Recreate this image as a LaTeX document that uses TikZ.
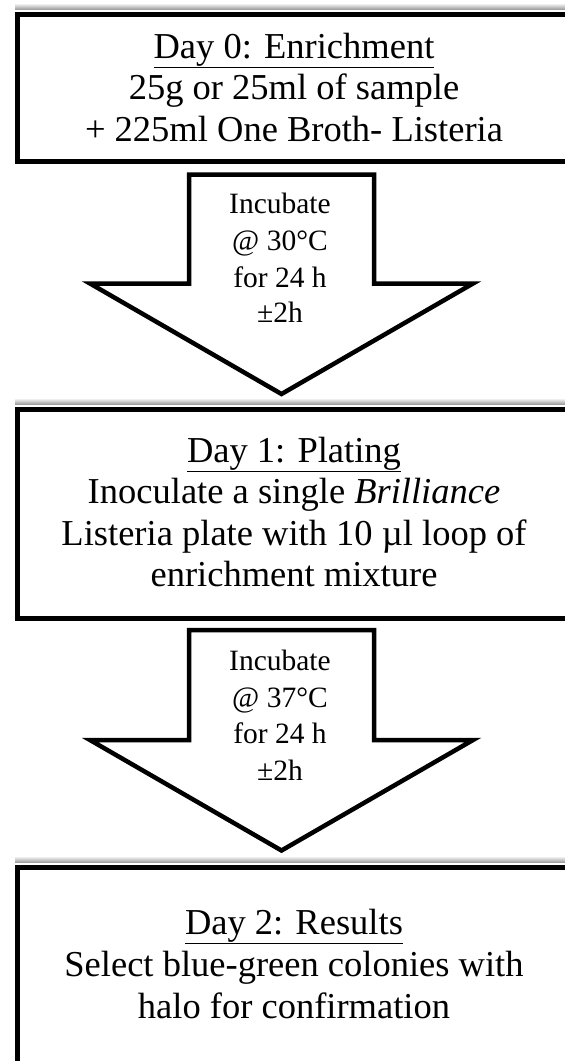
\documentclass[tikz,border=0pt]{standalone}
\usepackage{fontspec}
\setmainfont{Liberation Serif}
\begin{document}
\begin{tikzpicture}[x=1pt,y=-1pt,
  boxline/.style={draw=black,line width=5pt,fill=white},
  arrowline/.style={draw=black,line width=4.5pt,fill=white,line join=miter,miter limit=10},
  shadowstrip/.style={top color=white,bottom color=black!40,draw=none},
  bigtext/.style={font=\fontsize{36.5}{42}\selectfont,inner sep=0pt,anchor=base},
  smalltext/.style={font=\fontsize{29.5}{36.5}\selectfont,inner sep=0pt,anchor=base}]
\useasboundingbox (0,0) rectangle (565,1061);
\clip (0,0) rectangle (565,1061);
\fill[white] (0,0) rectangle (565,1061);
% shadows above the boxes
\shade[shadowstrip] (15,3) rectangle (580,9.5);
\shade[shadowstrip] (15,398) rectangle (580,404.5);
\shade[shadowstrip] (15,856) rectangle (580,862.5);
% boxes
\node[boxline,rectangle,anchor=north west,minimum width=559pt,minimum height=147pt,inner sep=0pt] (b0) at (15,12) {};
\node[boxline,rectangle,anchor=north west,minimum width=559pt,minimum height=209pt,inner sep=0pt] (b1) at (15,407) {};
\node[boxline,rectangle,anchor=north west,minimum width=559pt,minimum height=230pt,inner sep=0pt] (b2) at (15,865) {};
% block arrows
\draw[arrowline] (189,174.5) -- (374,174.5) -- (374,283.5) -- (473,283.5) -- (281.5,394) -- (90,283.5) -- (189,283.5) -- cycle;
\draw[arrowline] (189,630) -- (374,630) -- (374,740) -- (473,740) -- (281.5,850.5) -- (90,740) -- (189,740) -- cycle;
% box 0 text
\node[bigtext] (t01) at (294,58) {\underline{Day 0: Enrichment}};
\node[bigtext] (t02) at (294,99.5) {25g or 25ml of sample};
\node[bigtext] (t03) at (294,141) {+ 225ml One Broth- Listeria};
% arrow 1 text
\node[smalltext] (a11) at (280,213) {Incubate};
\node[smalltext] (a12) at (280,250) {@ 30°C};
\node[smalltext] (a13) at (280,287) {for 24 h};
\node[smalltext] (a14) at (280,322) {±2h};
% box 1 text
\node[bigtext] (t11) at (294,462) {\underline{Day 1: Plating}};
\node[bigtext] (t12) at (294,503.5) {Inoculate a single \textit{Brilliance}};
\node[bigtext] (t13) at (294,545) {Listeria plate with 10 µl loop of};
\node[bigtext] (t14) at (294,586.5) {enrichment mixture};
% arrow 2 text
\node[smalltext] (a21) at (280,670) {Incubate};
\node[smalltext] (a22) at (280,707) {@ 37°C};
\node[smalltext] (a23) at (280,743) {for 24 h};
\node[smalltext] (a24) at (280,780) {±2h};
% box 2 text
\node[bigtext] (t21) at (294,934) {\underline{Day 2: Results}};
\node[bigtext] (t22) at (294,976) {Select blue-green colonies with};
\node[bigtext] (t23) at (294,1018) {halo for confirmation};
\end{tikzpicture}
\end{document}
